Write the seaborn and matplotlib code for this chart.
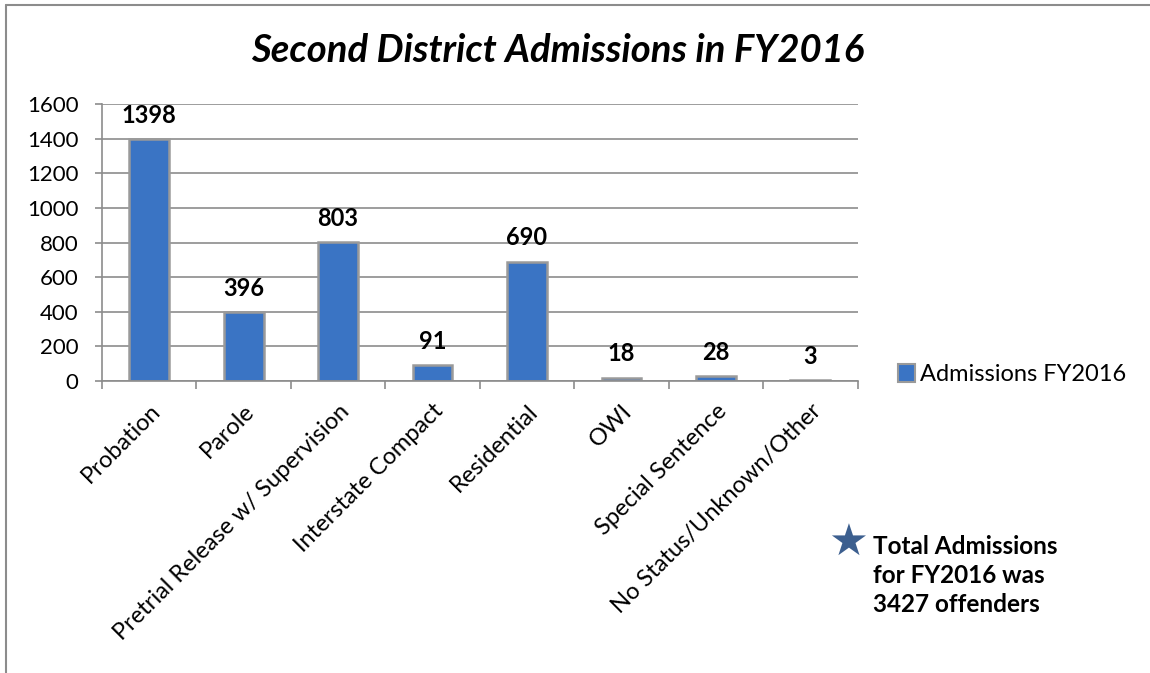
import matplotlib
matplotlib.use("Agg")
import matplotlib.pyplot as plt
import numpy as np
import pandas as pd
import seaborn as sns
from matplotlib.lines import Line2D
from matplotlib.patches import Patch

# chart data
categories = ["Probation", "Parole", "Pretrial Release w/ Supervision",
              "Interstate Compact", "Residential", "OWI",
              "Special Sentence", "No Status/Unknown/Other"]
admissions = [1398, 396, 803, 91, 690, 18, 28, 3]
y_ticks = [0, 200, 400, 600, 800, 1000, 1200, 1400, 1600]
series_name = "Admissions FY2016"
title = "Second District Admissions in FY2016"
note = "Total Admissions\nfor FY2016 was\n3427 offenders"

df = pd.DataFrame({"category": categories, "value": admissions})

sns.set_theme(style="white")
plt.rcParams["font.family"] = ["Lato", "DejaVu Sans"]
plt.rcParams["text.color"] = "black"
plt.rcParams["xtick.color"] = "black"
plt.rcParams["ytick.color"] = "black"

fig = plt.figure(figsize=(11.5, 6.73), dpi=100)
ax = fig.add_axes([0.0887, 0.434, 0.657, 0.411])

bar_blue = "#3a74c4"
sns.barplot(data=df, x="category", y="value", color=bar_blue, width=0.42,
            saturation=1, edgecolor="#9a9a9a", linewidth=1.8, ax=ax)

ax.set_ylim(0, 1600)
ax.set_xlim(-0.5, len(categories) - 0.5)
ax.set_yticks(y_ticks)
ax.set_yticklabels([str(t) for t in y_ticks], fontsize=16)
ax.grid(axis="y", color="#8c8c8c", linewidth=1.2)
ax.set_axisbelow(True)
ax.set_xlabel("")
ax.set_ylabel("")

# x labels rotated, tick marks between categories
ax.set_xticks(range(len(categories)))
ax.set_xticklabels(categories, rotation=45, ha="right", rotation_mode="anchor",
                   fontsize=17)
ax.tick_params(axis="x", which="major", length=0, pad=14)
ax.set_xticks(np.arange(-0.5, len(categories)), minor=True)
ax.tick_params(axis="x", which="minor", length=6, color="#8c8c8c", width=1.2,
               direction="out", bottom=True)
ax.tick_params(axis="y", length=5, color="#8c8c8c", width=1.2, direction="out",
               left=True, pad=12)

for side in ["top", "right"]:
    ax.spines[side].set_visible(False)
for side in ["left", "bottom"]:
    ax.spines[side].set_color("#8c8c8c")
    ax.spines[side].set_linewidth(1.2)

# data labels
for i, v in enumerate(admissions):
    ax.annotate(str(v), (i, v), xytext=(0, 9), textcoords="offset points",
                ha="center", va="bottom", fontsize=17, fontweight="bold")

# legend
handle = Patch(facecolor=bar_blue, edgecolor="#9a9a9a", linewidth=1.5)
fig.legend([handle], [series_name], loc="center left",
           bbox_to_anchor=(0.762, 0.443), frameon=False, fontsize=17,
           handlelength=0.75, handleheight=0.75, handletextpad=0.2)

fig.text(0.485, 0.925, title, ha="center", va="center", fontsize=27.5,
         fontweight="bold", fontstyle="italic")

# star note
fig.text(0.737, 0.193, "\u2605", ha="center", va="center", fontsize=32,
         color="#3c5f8f", family=["DejaVu Sans"])
fig.text(0.759, 0.145, note, ha="left", va="center", fontsize=17.5,
         fontweight="bold", linespacing=1.3)

# outer frame
fig.add_artist(Line2D([0.0052, 1.0], [0.9926, 0.9926], color="#8c8c8c",
                      linewidth=1.5, transform=fig.transFigure))
fig.add_artist(Line2D([0.0052, 0.0052], [0.0, 0.9926], color="#8c8c8c",
                      linewidth=1.5, transform=fig.transFigure))

fig.savefig("out.png", dpi=100)
